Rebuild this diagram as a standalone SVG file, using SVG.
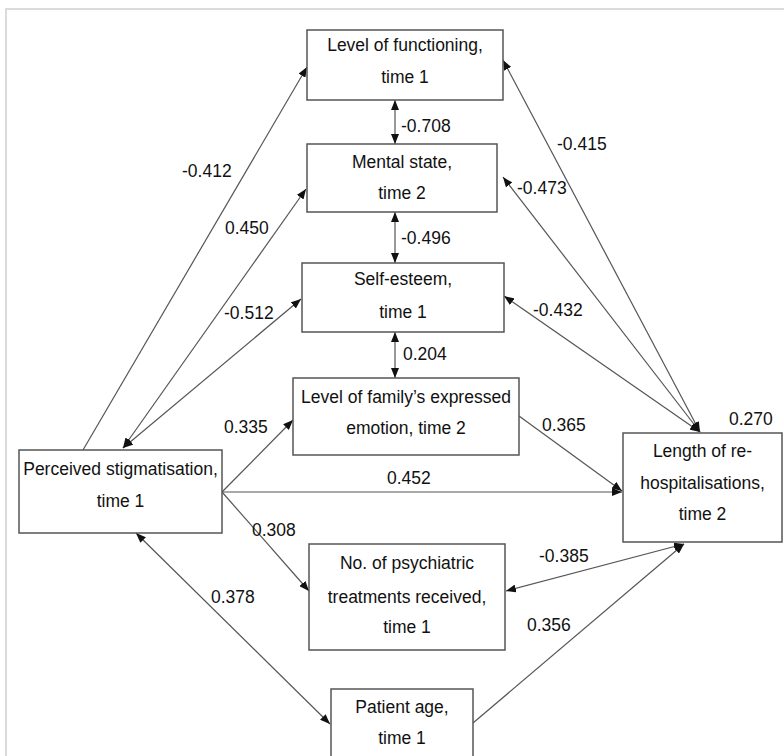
<svg xmlns="http://www.w3.org/2000/svg" width="784" height="756" viewBox="0 0 784 756">
<defs>
<marker id="ah" viewBox="0 0 10 8" refX="10" refY="4" markerWidth="10" markerHeight="8" markerUnits="userSpaceOnUse" orient="auto-start-reverse">
<path d="M0,0 L10,4 L0,8 z" fill="#111"/>
</marker>
<style>
.box{fill:#fff;stroke:#555;stroke-width:1.5}
.t{font-family:"Liberation Sans",Arial,sans-serif;font-size:17.5px;fill:#111;text-anchor:middle}
.l{font-family:"Liberation Sans",Arial,sans-serif;font-size:17.5px;fill:#111}
.c{fill:none;stroke:#555;stroke-width:1.2}
.e{marker-end:url(#ah)}
.b{marker-start:url(#ah);marker-end:url(#ah)}
</style>
</defs>
<rect width="784" height="756" fill="#fff"/>
<rect x="6" y="9" width="800" height="800" fill="none" stroke="#d0d0d0" stroke-width="1.5"/>
<g id="connectors">
<line class="c e" x1="83" y1="450" x2="307" y2="67"/>
<line class="c b" x1="123" y1="448" x2="306" y2="189"/>
<line class="c b" x1="123" y1="448" x2="301" y2="299"/>
<line class="c b" x1="395" y1="100" x2="395" y2="144"/>
<line class="c b" x1="395" y1="212" x2="395" y2="263"/>
<line class="c b" x1="395" y1="332" x2="395" y2="378"/>
<line class="c b" x1="700" y1="432" x2="503" y2="60"/>
<line class="c b" x1="700" y1="432" x2="503" y2="177"/>
<line class="c b" x1="700" y1="432" x2="504" y2="296"/>
<line class="c e" x1="222" y1="492" x2="293" y2="420"/>
<line class="c e" x1="222" y1="492" x2="622" y2="492"/>
<line class="c e" x1="222" y1="492" x2="309" y2="591"/>
<line class="c e" x1="519" y1="416" x2="622" y2="491"/>
<line class="c b" x1="136" y1="533" x2="330" y2="724"/>
<line class="c b" x1="506" y1="591" x2="684" y2="544"/>
<line class="c e" x1="473" y1="723" x2="684" y2="544"/>
</g>
<g id="labels">
<text class="l" x="182" y="177">-0.412</text>
<text class="l" x="225" y="234">0.450</text>
<text class="l" x="224" y="319">-0.512</text>
<text class="l" x="401" y="132">-0.708</text>
<text class="l" x="401" y="244">-0.496</text>
<text class="l" x="403" y="360">0.204</text>
<text class="l" x="557" y="150">-0.415</text>
<text class="l" x="517" y="194">-0.473</text>
<text class="l" x="533" y="316">-0.432</text>
<text class="l" x="729" y="425">0.270</text>
<text class="l" x="224" y="433">0.335</text>
<text class="l" x="387" y="484">0.452</text>
<text class="l" x="252" y="536">0.308</text>
<text class="l" x="542" y="431">0.365</text>
<text class="l" x="211" y="603">0.378</text>
<text class="l" x="539" y="562">-0.385</text>
<text class="l" x="527" y="631">0.356</text>
</g>
<g id="n-functioning">
<rect class="box" x="307" y="30" width="196" height="70"/>
<text class="t" x="405" y="51">Level of functioning,</text>
<text class="t" x="405" y="83">time 1</text>
</g>
<g id="n-mental">
<rect class="box" x="307" y="144" width="190" height="68"/>
<text class="t" x="402" y="168">Mental state,</text>
<text class="t" x="402" y="199">time 2</text>
</g>
<g id="n-selfesteem">
<rect class="box" x="302" y="263" width="202" height="69"/>
<text class="t" x="403" y="285">Self-esteem,</text>
<text class="t" x="403" y="318">time 1</text>
</g>
<g id="n-family">
<rect class="box" x="293" y="378" width="226" height="77"/>
<text class="t" x="406" y="403">Level of family’s expressed</text>
<text class="t" x="406" y="434">emotion, time 2</text>
</g>
<g id="n-stigma">
<rect class="box" x="19" y="450" width="203" height="83"/>
<text class="t" x="120.5" y="475">Perceived stigmatisation,</text>
<text class="t" x="120.5" y="507">time 1</text>
</g>
<g id="n-treatments">
<rect class="box" x="309" y="544" width="196" height="106"/>
<text class="t" x="407" y="569">No. of psychiatric</text>
<text class="t" x="407" y="603">treatments received,</text>
<text class="t" x="407" y="633">time 1</text>
</g>
<g id="n-age">
<rect class="box" x="331" y="689" width="142" height="75"/>
<text class="t" x="402" y="713">Patient age,</text>
<text class="t" x="402" y="744">time 1</text>
</g>
<g id="n-length">
<rect class="box" x="623" y="433" width="159" height="109"/>
<text class="t" x="702.5" y="457">Length of re-</text>
<text class="t" x="702.5" y="489">hospitalisations,</text>
<text class="t" x="702.5" y="520">time 2</text>
</g>
</svg>
